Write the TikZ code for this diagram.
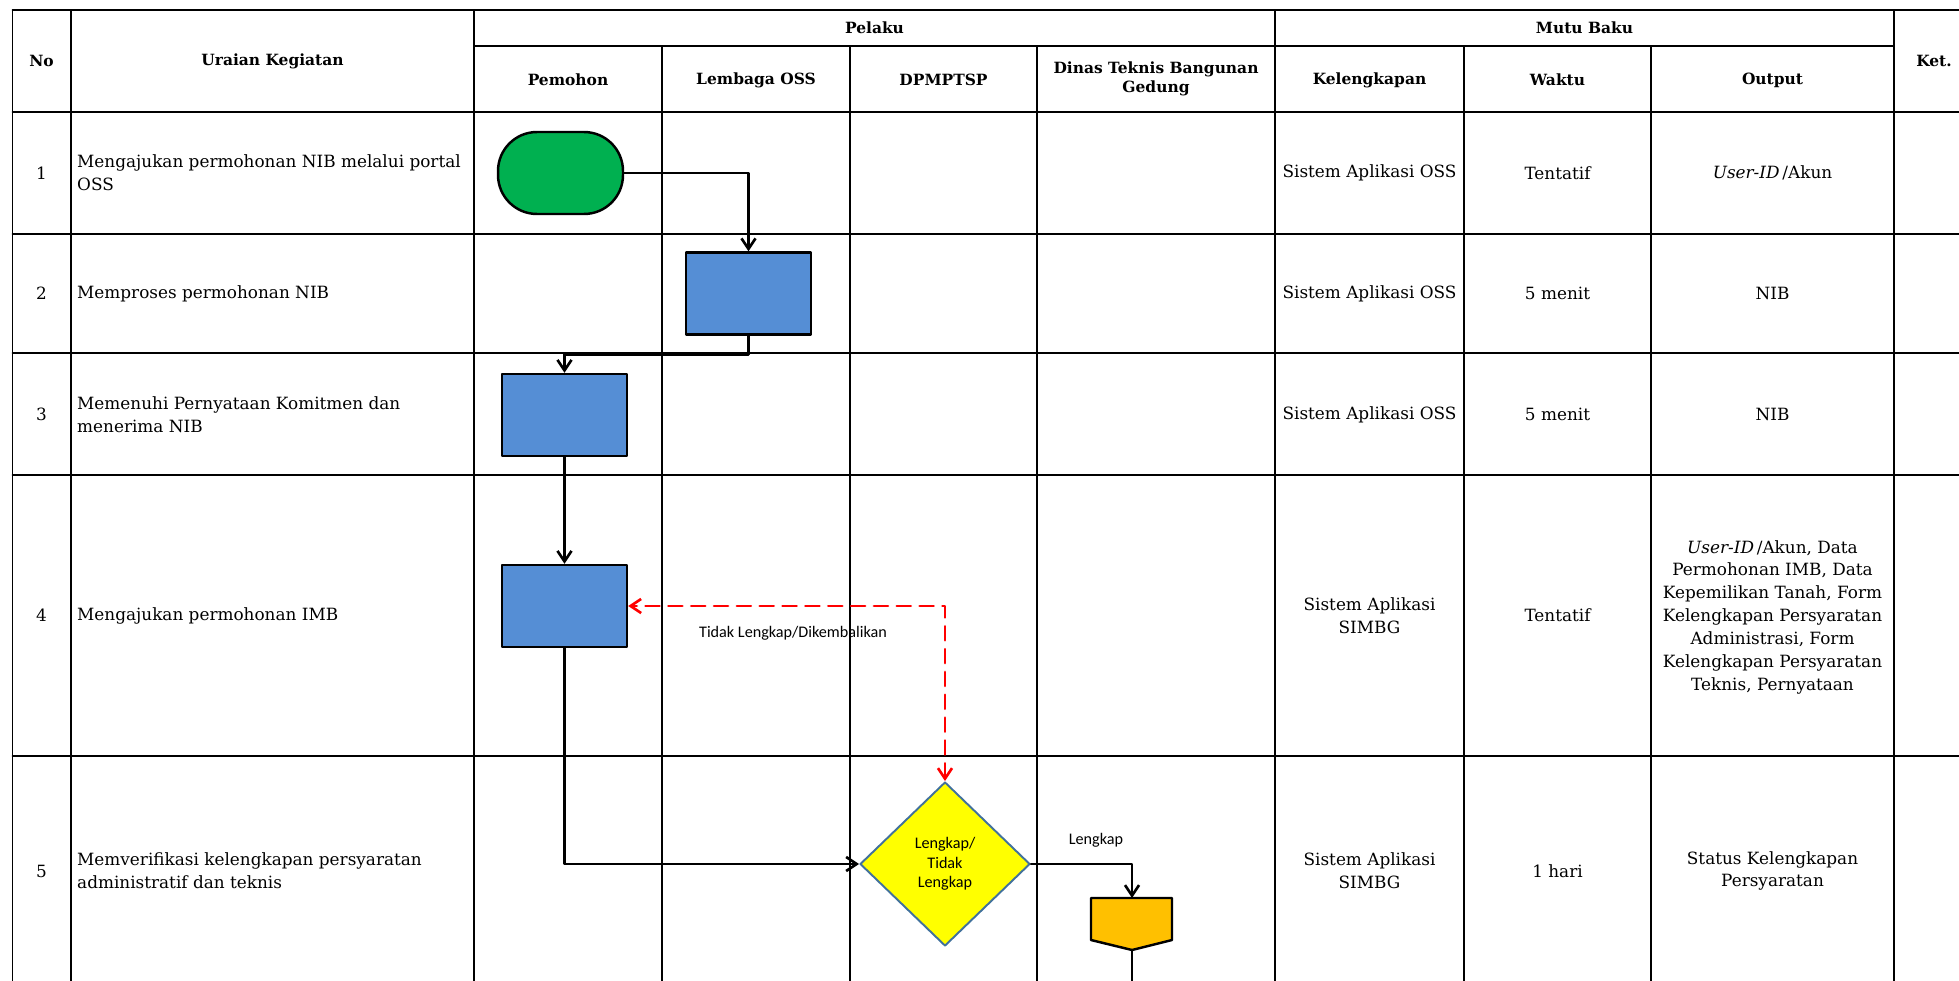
\documentclass[tikz,border=0pt]{standalone}
\usepackage{fontspec}
\setmainfont{DejaVu Serif}
\newfontfamily\calibri{Carlito}
\usetikzlibrary{arrows.meta,shapes.geometric}
\definecolor{hijau}{RGB}{0,176,80}
\definecolor{biru}{RGB}{85,142,213}
\definecolor{kuning}{RGB}{255,255,0}
\definecolor{oranye}{RGB}{255,192,0}
\definecolor{garisbiru}{RGB}{65,113,156}

\begin{document}
\begin{tikzpicture}[x=0.02cm,y=-0.02cm,line cap=round,line join=round,
	garis/.style={line width=1.1pt},
	judul/.style={font=\fontsize{8.8}{11}\selectfont\bfseries,align=center},
	isi/.style={font=\fontsize{9.6}{13}\selectfont,align=center},
	uraian/.style={font=\fontsize{9.6}{13}\selectfont,align=left,anchor=west},
	catatan/.style={font=\calibri\fontsize{9.2}{11}\selectfont},
	mulai/.style={draw,fill=hijau,line width=1.4pt,minimum width=2.5cm,minimum height=1.64cm,rounded corners=0.78cm,inner sep=0},
	proses/.style={draw,fill=biru,line width=1.4pt,minimum width=2.5cm,minimum height=1.64cm,inner sep=0},
	keputusan/.style={diamond,draw=garisbiru,fill=kuning,line width=1.1pt,minimum width=3.4cm,minimum height=3.28cm,inner sep=0,align=center,font=\calibri\fontsize{9.2}{11}\selectfont},
	alur/.style={line width=1.5pt,-{Straight Barb[length=6pt,width=8pt]}},
	balik/.style={line width=1.5pt,red,dash pattern=on 8pt off 5pt,{Straight Barb[length=6pt,width=8pt]}-{Straight Barb[length=6pt,width=8pt]}}]
			\useasboundingbox (0,0) rectangle (1959,980);
			\clip (0,0) rectangle (1959,980);
			
			% tabel
			\draw[garis] (12.5,10) -- (1990,10) (12.5,112) -- (1990,112)
			(12.5,234) -- (1990,234) (12.5,353) -- (1990,353)
			(12.5,475) -- (1990,475) (12.5,756) -- (1990,756)
			(474,46) -- (1894,46);
			\draw[garis] (12.5,10) -- (12.5,1000) (71,10) -- (71,1000)
			(474,10) -- (474,1000) (1275,10) -- (1275,1000) (1894,10) -- (1894,1000)
			(662,46) -- (662,1000) (850,46) -- (850,1000) (1037,46) -- (1037,1000)
			(1464,46) -- (1464,1000) (1651,46) -- (1651,1000);
			
			% judul kolom
			\node[judul] (no) at (41.5,61) {No};
			\node[judul] (uraian) at (272.5,61) {Uraian Kegiatan};
			\node[judul] (pelaku) at (874.5,28) {Pelaku};
			\node[judul] (mutu) at (1584.5,28) {Mutu Baku};
			\node[judul] (ket) at (1934,61) {Ket.};
			\node[judul] (pemohon) at (568,80) {Pemohon};
			\node[judul] (oss) at (756,80) {Lembaga OSS};
			\node[judul] (dpmptsp) at (943.5,80) {DPMPTSP};
			\node[judul] (dinas) at (1156,79) {Dinas Teknis Bangunan\\Gedung};
			\node[judul] (kelengkapan) at (1369.5,80) {Kelengkapan};
			\node[judul] (waktu) at (1557.5,80) {Waktu};
			\node[judul] (output) at (1772.5,80) {Output};
			
			% baris 1
			\node[isi] (no1) at (41.5,173) {1};
			\node[uraian] (ur1) at (71,173) {Mengajukan permohonan NIB melalui portal\\OSS};
			\node[isi] (kl1) at (1369.5,173) {Sistem Aplikasi OSS};
			\node[isi] (wk1) at (1557.5,173) {Tentatif};
			\node[isi] (op1) at (1772.5,173) {\textit{User-ID}\,/Akun};
			% baris 2
			\node[isi] (no2) at (41.5,293.5) {2};
			\node[uraian] (ur2) at (71,293.5) {Memproses permohonan NIB};
			\node[isi] (kl2) at (1369.5,293.5) {Sistem Aplikasi OSS};
			\node[isi] (wk2) at (1557.5,293.5) {5 menit};
			\node[isi] (op2) at (1772.5,293.5) {NIB};
			% baris 3
			\node[isi] (no3) at (41.5,414.5) {3};
			\node[uraian] (ur3) at (71,414.5) {Memenuhi Pernyataan Komitmen dan\\menerima NIB};
			\node[isi] (kl3) at (1369.5,414.5) {Sistem Aplikasi OSS};
			\node[isi] (wk3) at (1557.5,414.5) {5 menit};
			\node[isi] (op3) at (1772.5,414.5) {NIB};
			% baris 4
			\node[isi] (no4) at (41.5,615.5) {4};
			\node[uraian] (ur4) at (71,615.5) {Mengajukan permohonan IMB};
			\node[isi] (kl4) at (1369.5,615.5) {Sistem Aplikasi\\SIMBG};
			\node[isi] (wk4) at (1557.5,615.5) {Tentatif};
			\node[isi] (op4) at (1772.5,617) {\textit{User-ID}\,/Akun, Data\\Permohonan IMB, Data\\Kepemilikan Tanah, Form\\Kelengkapan Persyaratan\\Administrasi, Form\\Kelengkapan Persyaratan\\Teknis, Pernyataan};
			% baris 5
			\node[isi] (no5) at (41.5,871) {5};
			\node[uraian] (ur5) at (71,871) {Memverifikasi kelengkapan persyaratan\\administratif dan teknis};
			\node[isi] (kl5) at (1369.5,871) {Sistem Aplikasi\\SIMBG};
			\node[isi] (wk5) at (1557.5,871) {1 hari};
			\node[isi] (op5) at (1772.5,871) {Status Kelengkapan\\Persyaratan};
			
			% bagan alir
			\node[mulai] (awal) at (560.5,173) {};
			\node[proses] (p2) at (748.5,293.5) {};
			\node[proses] (p3) at (564.5,415) {};
			\node[proses] (p4) at (564.5,606) {};
			\node[keputusan] (cek) at (945,864) {Lengkap/\\Tidak\\Lengkap};
			
			\coordinate (sambung) at (1132,898);
			\coordinate (sambung-ujung) at (1132,950);
			\coordinate (bawah) at (1132,1000);
			\path[draw,fill=oranye,line width=1.4pt] (1091,898) -- (1172,898) -- (1172,940) --
			(1132,950) -- (1091,940) -- cycle;
			
			\draw[alur] (awal.east) -| (p2.north);
			\draw[alur] (p2.south) -- ++(0,19) -| (p3.north);
			\draw[alur] (p3.south) -- (p4.north);
			\draw[alur] (p4.south) |- (cek.west);
			\draw[balik] (cek.north) |- (p4.east);
			\draw[alur] (cek.east) -| (sambung);
			\draw[line width=1.5pt] (sambung-ujung) -- (bawah);
			
			\node[catatan] (tidak) at (793,633) {Tidak Lengkap/Dikembalikan};
			\node[catatan] (lengkap) at (1096,840) {Lengkap};
		\end{tikzpicture}
\end{document}
